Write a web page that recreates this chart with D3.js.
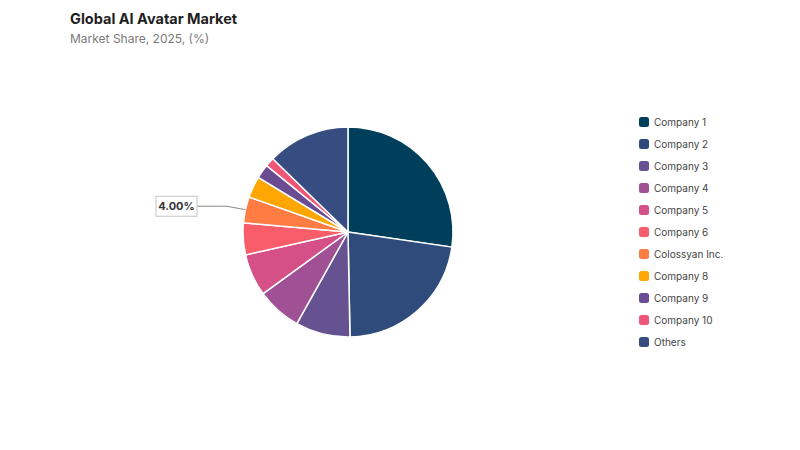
<!DOCTYPE html>
<html>
<head>
<meta charset="utf-8">
<script src="https://cdn.jsdelivr.net/npm/d3@7"></script>
<style>
  body { margin: 0; background: #fff; font-family: Inter, "Noto Sans", sans-serif; }
  .title { font-size: 14.5px; font-weight: 700; fill: #1f1f1f; }
  .subtitle { font-size: 12px; fill: #7a7a7a; }
  .legend-label { font-size: 10px; fill: #444; }
</style>
</head>
<body>
<svg width="800" height="450"></svg>
<script>
  const companies = ['Company 1', 'Company 2', 'Company 3', 'Company 4', 'Company 5', 'Company 6',
    'Colossyan Inc.', 'Company 8', 'Company 9', 'Company 10', 'Others'];
  const shares = [27.3, 22.4, 8.4, 6.9, 6.5, 4.9, 4.0, 3.3, 2.2, 1.4, 12.7];
  const colors = ['#003f5c', '#2f4b7c', '#665191', '#a05195', '#d45087', '#f95d6a',
    '#ff7c43', '#ffa600', '#6a4c93', '#ef5675', '#374c80'];
  const labelled = 'Colossyan Inc.';
  const labelText = '4.00%';

  const svg = d3.select('svg');
  const width = +svg.attr('width');
  const height = +svg.attr('height');

  const data = companies.map((c, i) => ({ name: c, value: shares[i] }));

  svg.append('text').attr('class', 'title').attr('x', 70).attr('y', 24)
    .text('Global AI Avatar Market');
  svg.append('text').attr('class', 'subtitle').attr('x', 70).attr('y', 43)
    .text('Market Share, 2025, (%)');

  const cx = 348, cy = 232, radius = 105;

  const color = d3.scaleOrdinal().domain(companies).range(colors);

  const pie = d3.pie().sort(null).value(d => d.value);
  const arc = d3.arc().innerRadius(0).outerRadius(radius);

  const g = svg.append('g').attr('transform', `translate(${cx},${cy})`);

  const arcs = pie(data);

  g.selectAll('path')
    .data(arcs)
    .join('path')
      .attr('d', arc)
      .attr('fill', d => color(d.data.name))
      .attr('stroke', '#fff')
      .attr('stroke-width', 1.5);

  // callout for one slice
  const target = arcs.find(d => d.data.name === labelled);
  const mid = (target.startAngle + target.endAngle) / 2;
  const edge = [Math.sin(mid) * radius, -Math.cos(mid) * radius];
  const boxRight = -151;
  const elbowX = boxRight + 30;
  const lineY = edge[1] - 3.5;
  g.append('polyline')
    .attr('points', [[edge[0], edge[1]], [elbowX, lineY], [boxRight, lineY]].join(' '))
    .attr('fill', 'none')
    .attr('stroke', '#888')
    .attr('stroke-width', 1);

  const lbl = g.append('g').attr('transform', `translate(${boxRight},${lineY})`);
  lbl.append('rect')
    .attr('x', -41).attr('y', -10).attr('width', 41).attr('height', 20)
    .attr('fill', '#fff').attr('stroke', '#c4c4c4').attr('stroke-width', 1);
  lbl.append('text')
    .attr('x', -20.5).attr('y', 4)
    .attr('text-anchor', 'middle')
    .attr('font-size', 11).attr('font-weight', 700).attr('fill', '#333')
    .text(labelText);

  // legend
  const legend = svg.append('g').attr('transform', 'translate(639,122)');
  const row = legend.selectAll('g')
    .data(companies)
    .join('g')
      .attr('transform', (d, i) => `translate(0,${i * 22})`);
  row.append('rect')
    .attr('x', 0).attr('y', -5).attr('width', 10).attr('height', 10).attr('rx', 2.5)
    .attr('fill', d => color(d));
  row.append('text')
    .attr('class', 'legend-label')
    .attr('x', 15).attr('y', 3.5)
    .text(d => d);
</script>
</body>
</html>
